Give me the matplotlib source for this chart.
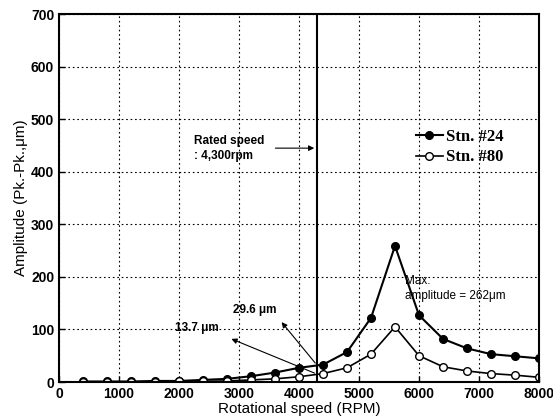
import matplotlib
matplotlib.use("Agg")
import matplotlib.pyplot as plt

# ---- data ----
rpm = [400, 800, 1200, 1600, 2000, 2400, 2800, 3200, 3600, 4000,
       4400, 4800, 5200, 5600, 6000, 6400, 6800, 7200, 7600, 8000]
stn24 = [1, 1, 1, 2, 2, 4, 6, 11, 18, 27, 33, 57, 122, 259, 127, 82, 64, 53, 49, 45]
stn80 = [0, 0, 0, 0, 1, 1, 2, 4, 6, 10, 16, 27, 53, 105, 50, 29, 21, 16, 13, 9]
rated_rpm = 4300
xticks = [0, 1000, 2000, 3000, 4000, 5000, 6000, 7000, 8000]
yticks = [0, 100, 200, 300, 400, 500, 600, 700]

plt.rcParams['font.family'] = ['Liberation Sans', 'DejaVu Sans']

fig = plt.figure(figsize=(5.53, 4.19), dpi=100)
ax = fig.add_axes([0.1067, 0.0883, 0.868, 0.878])

ax.plot(rpm, stn24, '-o', color='black', lw=1.5, ms=5.5, mfc='black', label='Stn. #24')
ax.plot(rpm, stn80, '-o', color='black', lw=1.2, ms=5.5, mfc='white', mew=1, label='Stn. #80')
ax.axvline(rated_rpm, color='black', lw=1.5)

ax.set_xlim(0, 8000)
ax.set_ylim(0, 700)
ax.set_xticks(xticks)
ax.set_yticks(yticks)
ax.tick_params(direction='in', length=4, labelsize=10, width=1)
for lab in ax.get_xticklabels() + ax.get_yticklabels():
    lab.set_fontweight('bold')
ax.grid(True, color='black', linestyle=(0, (1.5, 2.5)), lw=0.8)
for s in ax.spines.values():
    s.set_linewidth(1.5)

ax.set_xlabel('Rotational speed (RPM)', fontsize=11, labelpad=1)
ax.set_ylabel('Amplitude (Pk.-Pk.,\u03bcm)', fontsize=11, labelpad=2)

# annotations
ax.annotate('', xy=(rated_rpm, 445), xytext=(3560, 445),
            arrowprops=dict(arrowstyle='-|>', color='black', lw=0.8, mutation_scale=8))
ax.text(2250, 458, 'Rated speed', fontsize=8.5, fontweight='bold', va='center')
ax.text(2250, 430, ': 4,300rpm', fontsize=8.5, fontweight='bold', va='center')

ax.text(5770, 192, 'Max.', fontsize=8.5, va='center')
ax.text(5770, 163, 'amplitude = 262\u03bcm', fontsize=8.5, va='center')

ax.annotate('', xy=(3680, 118), xytext=(4300, 32),
            arrowprops=dict(arrowstyle='-|>', color='black', lw=0.8, mutation_scale=8))
ax.text(2900, 137, '29.6 \u03bcm', fontsize=8.5, fontweight='bold', va='center')
ax.annotate('', xy=(2830, 84), xytext=(4300, 15),
            arrowprops=dict(arrowstyle='-|>', color='black', lw=0.8, mutation_scale=8))
ax.text(1930, 103, '13.7 \u03bcm', fontsize=8.5, fontweight='bold', va='center')

leg = ax.legend(loc='upper left', bbox_to_anchor=(0.73, 0.705), frameon=False,
                prop={'family': 'Liberation Serif', 'weight': 'bold', 'size': 12},
                handlelength=1.6, handletextpad=0.2, labelspacing=0.25, borderaxespad=0)

fig.savefig('out.png', dpi=100)
